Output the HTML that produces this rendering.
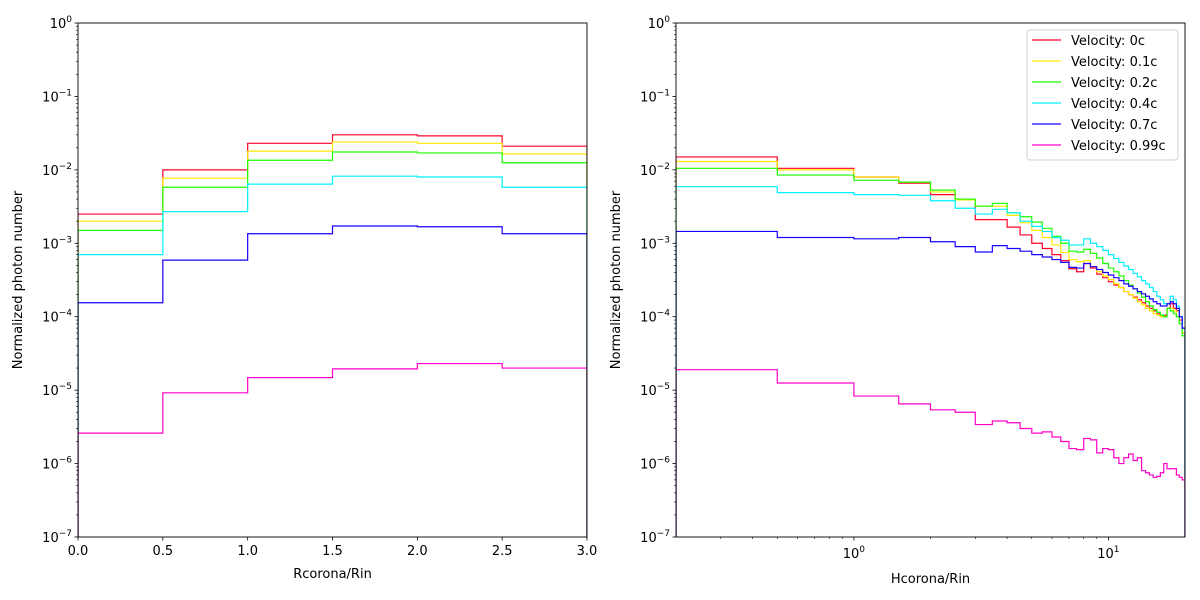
<!DOCTYPE html>
<html><head><meta charset="utf-8"><style>
body{margin:0;background:#fff;}
svg{display:block;font-family:"DejaVu Sans","Liberation Sans",sans-serif;}
</style></head><body>
<svg id="fig" width="1200" height="600" viewBox="0 0 1200 600"></svg>
<script>
const seriesNames=["Velocity: 0c","Velocity: 0.1c","Velocity: 0.2c","Velocity: 0.4c","Velocity: 0.7c","Velocity: 0.99c"];
const colors=["#ff0029","#ffe800","#1aff00","#00f0ff","#1a00ff","#ff00c8"];
const leftEdges=[0,0.5,1,1.5,2,2.5,3];
const leftRed=[2.5e-3,1.0e-2,2.3e-2,3.0e-2,2.9e-2,2.1e-2];
const leftYellow=[2.0e-3,7.7e-3,1.8e-2,2.4e-2,2.3e-2,1.65e-2];
const leftGreen=[1.5e-3,5.8e-3,1.35e-2,1.75e-2,1.7e-2,1.25e-2];
const leftCyan=[7e-4,2.7e-3,6.4e-3,8.2e-3,8.0e-3,5.8e-3];
const leftBlue=[1.55e-4,5.9e-4,1.35e-3,1.72e-3,1.68e-3,1.35e-3];
const leftPink=[2.6e-6,9.2e-6,1.48e-5,1.95e-5,2.3e-5,2.0e-5];
const rightRed=[1.5e-2,1.05e-2,8e-3,6.6e-3,4.6e-3,3.9e-3,2.1e-3,2.1e-3,1.66e-3,1.3e-3,1.0e-3,8.5e-4,7e-4,5.8e-4,4.5e-4,4.1e-4,5.3e-4,4.6e-4,3.8e-4,3.4e-4,3.0e-4,2.7e-4,2.5e-4,2.2e-4,2.0e-4,1.85e-4,1.7e-4,1.55e-4,1.4e-4,1.3e-4,1.2e-4,1.1e-4,1.05e-4,1.05e-4,1.3e-4,1.5e-4,1.3e-4,1.2e-4,9e-5,6e-5];
const rightYellow=[1.3e-2,1.0e-2,8e-3,6.8e-3,5e-3,3.9e-3,3.2e-3,3.2e-3,2.4e-3,1.9e-3,1.5e-3,1.2e-3,9.5e-4,7.5e-4,6e-4,5.6e-4,5.8e-4,4.8e-4,4.1e-4,3.6e-4,3.2e-4,2.8e-4,2.5e-4,2.2e-4,2.0e-4,1.8e-4,1.6e-4,1.45e-4,1.3e-4,1.2e-4,1.1e-4,1.05e-4,1.0e-4,1.0e-4,1.3e-4,1.3e-4,1.2e-4,1.0e-4,8e-5,6e-5];
const rightGreen=[1.05e-2,8.5e-3,7.2e-3,6.8e-3,5.3e-3,4.0e-3,3.2e-3,3.5e-3,2.6e-3,2.3e-3,1.95e-3,1.6e-3,1.25e-3,1.0e-3,7.8e-4,7.6e-4,8.3e-4,7.3e-4,6.3e-4,5.3e-4,4.6e-4,4.1e-4,3.6e-4,3.1e-4,2.7e-4,2.4e-4,2.1e-4,1.85e-4,1.6e-4,1.4e-4,1.25e-4,1.15e-4,1.05e-4,1.0e-4,1.3e-4,1.2e-4,1.1e-4,1.0e-4,8e-5,5.5e-5];
const rightCyan=[5.9e-3,4.9e-3,4.6e-3,4.5e-3,3.8e-3,3.0e-3,2.5e-3,2.9e-3,2.6e-3,2.0e-3,1.7e-3,1.45e-3,1.2e-3,1.1e-3,9.5e-4,9.5e-4,1.15e-3,1.0e-3,9e-4,8e-4,7e-4,6.2e-4,5.5e-4,4.9e-4,4.4e-4,3.9e-4,3.5e-4,3.1e-4,2.8e-4,2.5e-4,2.2e-4,1.9e-4,1.7e-4,1.5e-4,1.5e-4,1.9e-4,1.7e-4,1.4e-4,1.0e-4,7e-5];
const rightBlue=[1.45e-3,1.2e-3,1.15e-3,1.2e-3,1.05e-3,9e-4,7.6e-4,9.3e-4,8.5e-4,7.8e-4,7e-4,6.5e-4,6e-4,5.5e-4,4.7e-4,4.6e-4,5.3e-4,4.8e-4,4.4e-4,4.0e-4,3.7e-4,3.4e-4,3.1e-4,2.8e-4,2.6e-4,2.4e-4,2.2e-4,2.05e-4,1.9e-4,1.75e-4,1.6e-4,1.5e-4,1.4e-4,1.4e-4,1.5e-4,1.6e-4,1.5e-4,1.3e-4,1.0e-4,7e-5];
const rightPink=[1.9e-5,1.25e-5,8.3e-6,6.5e-6,5.4e-6,5.0e-6,3.4e-6,3.8e-6,3.6e-6,3.0e-6,2.6e-6,2.7e-6,2.3e-6,2.0e-6,1.6e-6,1.55e-6,2.2e-6,2.1e-6,1.4e-6,1.6e-6,1.55e-6,1.2e-6,1.0e-6,1.2e-6,1.35e-6,1.1e-6,1.2e-6,8e-7,7.5e-7,7e-7,6.5e-7,6.7e-7,7.5e-7,1.0e-6,8.5e-7,8.5e-7,8.5e-7,7e-7,6.5e-7,6e-7];
const rightBinWidth=0.5;
const yTickExps=[0,-1,-2,-3,-4,-5,-6,-7];
const leftXTicks=["0.0","0.5","1.0","1.5","2.0","2.5","3.0"];
const rightXTickExps=[0,1];

const NS="http://www.w3.org/2000/svg";
const svg=document.getElementById('fig');
function mk(tag,attrs,parent){const e=document.createElementNS(NS,tag);for(const k in attrs)e.setAttribute(k,attrs[k]);(parent||svg).appendChild(e);return e;}

const T=23,B=537;
function yScale(v){return T+(0-Math.log10(v))*(B-T)/7;}
const L1=78,R1=587,L2=676,R2=1185;
function xLeft(v){return L1+(v-0)/(3-0)*(R1-L1);}
const xmin2=0.2,xmax2=20;
function xRight(v){const lv=Math.log10(Math.max(v,xmin2));return L2+(lv-Math.log10(xmin2))/(Math.log10(xmax2)-Math.log10(xmin2))*(R2-L2);}

function pow10Label(g,x,y,exp,anchor){
  const t=mk('text',{x:x,y:y,'font-size':13,'text-anchor':anchor,fill:'#000'},g);
  t.appendChild(document.createTextNode('10'));
  const s=mk('tspan',{'font-size':9,dy:-6},t);
  s.textContent=(exp<0?'\u2212':'')+Math.abs(exp);
  return t;
}

function drawYAxis(g,L){
  yTickExps.forEach(e=>{
    const y=yScale(Math.pow(10,e));
    const tk=mk('line',{x1:L-3.5,x2:L,y1:y,y2:y,stroke:'#000','stroke-width':0.8},g);
    
    
    const lb=pow10Label(g,L-6,y+5,e,'end');
    
    
    if(e>-7){for(let m=2;m<=9;m++){const yy=yScale(m*Math.pow(10,e-1));mk('line',{x1:L-2,x2:L,y1:yy,y2:yy,stroke:'#000','stroke-width':0.6},g);}}
  });
  const yl=mk('text',{x:0,y:0,'font-size':13,'text-anchor':'middle',transform:`translate(${L-56},280) rotate(-90)`},g);
  yl.textContent='Normalized photon number';
  
  
}

function stepPath(edgesX,vals){
  let d=`M${edgesX[0]},${B} L${edgesX[0]},${yScale(vals[0])}`;
  for(let i=0;i<vals.length;i++){
    d+=` L${edgesX[i+1]},${yScale(vals[i])}`;
    if(i<vals.length-1)d+=` L${edgesX[i+1]},${yScale(vals[i+1])}`;
  }
  d+=` L${edgesX[vals.length]},${B}`;
  return d;
}

// LEFT PANEL
const g1=mk('g',{});


const cp1=mk('clipPath',{id:'c1'},g1);
mk('rect',{x:L1,y:T,width:R1-L1,height:B-T},cp1);
const leftSeries=[leftRed,leftYellow,leftGreen,leftCyan,leftBlue,leftPink];
const ex1=leftEdges.map(xLeft);
leftSeries.forEach((vals,i)=>{
  const p=mk('path',{d:stepPath(ex1,vals),fill:'none',stroke:colors[i],'stroke-width':1.2,'clip-path':'url(#c1)'},g1);
  
  
});
leftXTicks.forEach(t=>{
  const x=xLeft(parseFloat(t));
  mk('line',{x1:x,x2:x,y1:B,y2:B+3.5,stroke:'#000','stroke-width':0.8},g1);
  const lb=mk('text',{x:x,y:B+18,'font-size':13,'text-anchor':'middle'},g1);
  lb.textContent=t;
  
  
});
drawYAxis(g1,L1);
const xl1=mk('text',{x:(L1+R1)/2,y:578,'font-size':13,'text-anchor':'middle'},g1);
xl1.textContent='Rcorona/Rin';


mk('rect',{x:L1,y:T,width:R1-L1,height:B-T,fill:'none',stroke:'#000','stroke-width':0.9},g1);

// RIGHT PANEL
const g2=mk('g',{});


const cp2=mk('clipPath',{id:'c2'},g2);
mk('rect',{x:L2,y:T,width:R2-L2,height:B-T},cp2);
const rightSeries=[rightRed,rightYellow,rightGreen,rightCyan,rightBlue,rightPink];
const ex2=[];for(let i=0;i<=rightRed.length;i++)ex2.push(xRight(i*rightBinWidth));
rightSeries.forEach((vals,i)=>{
  const p=mk('path',{d:stepPath(ex2,vals),fill:'none',stroke:colors[i],'stroke-width':1.2,'clip-path':'url(#c2)'},g2);
  
  
});
rightXTickExps.forEach(e=>{
  const x=xRight(Math.pow(10,e));
  mk('line',{x1:x,x2:x,y1:B,y2:B+3.5,stroke:'#000','stroke-width':0.8},g2);
  const lb=pow10Label(g2,x,B+21,e,'middle');
  
  
});
[0.3,0.4,0.5,0.6,0.7,0.8,0.9,2,3,4,5,6,7,8,9].forEach(v=>{const x=xRight(v);mk('line',{x1:x,x2:x,y1:B,y2:B+2,stroke:'#000','stroke-width':0.6},g2);});
drawYAxis(g2,L2);
const xl2=mk('text',{x:(L2+R2)/2,y:583,'font-size':13,'text-anchor':'middle'},g2);
xl2.textContent='Hcorona/Rin';


mk('rect',{x:L2,y:T,width:R2-L2,height:B-T,fill:'none',stroke:'#000','stroke-width':0.9},g2);

// LEGEND
const lg=mk('g',{});


mk('rect',{x:1027,y:30,width:151,height:130,rx:3,fill:'#fff','fill-opacity':0.8,stroke:'#d0d0d0','stroke-width':1},lg);
seriesNames.forEach((n,i)=>{
  const y=40+i*21;
  const e=mk('g',{},lg);
  
  
  mk('line',{x1:1032,x2:1061,y1:y,y2:y,stroke:colors[i],'stroke-width':1.2},e);
  const t=mk('text',{x:1071,y:y+5,'font-size':13},e);
  t.textContent=n;
});
</script>
</body></html>
